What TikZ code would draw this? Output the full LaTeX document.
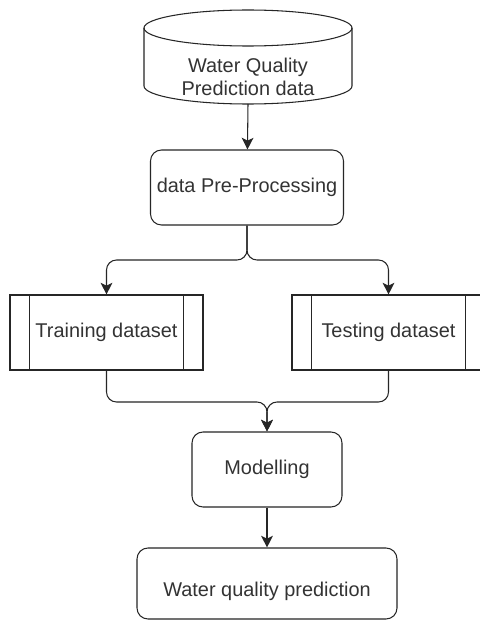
\documentclass[tikz,border=0pt]{standalone}
\usepackage{fontspec}
\setmainfont{Liberation Sans}
\usetikzlibrary{arrows.meta}

\begin{document}
\begin{tikzpicture}[x=0.03cm, y=0.03cm, line width=0.9pt, color=black!85,
  >={Stealth[length=10pt, width=10pt, inset=2.5pt]},
  txt/.style={font=\fontsize{17}{20}\selectfont, text=black!80},
  proc/.style={txt, draw, fill=white, rounded corners=0.33cm,
    minimum width=5.79cm, minimum height=2.25cm},
  subproc/.style={txt, draw, fill=white,
    minimum width=5.79cm, minimum height=2.25cm},
  link/.style={->, rounded corners=0.3cm}]
  \useasboundingbox (0,0) rectangle (480,-621);
  \fill[white] (0,0) rectangle (480,-621);
  % data store drum
  \draw (248,-28) ellipse [x radius=104, y radius=18];
  \draw (144,-28) -- (144,-86) arc [start angle=180, end angle=360, x radius=104, y radius=18] -- (352,-28);
  \node[txt, align=center] (src) at (248,-77) {Water Quality\\Prediction data};
  \coordinate (srcbot) at (248,-104);
  % steps
  \node[proc] (prep) at (247,-187.5) {data Pre-Processing};
  \node[subproc] (train) at (106.5,-332.5) {Training dataset};
  \node[subproc] (test) at (388.5,-332.5) {Testing dataset};
  \node[proc, minimum width=4.5cm] (model) at (267,-469.5) {Modelling};
  \node[proc, minimum width=7.8cm, minimum height=2.13cm,
    text height=23pt, text depth=0pt] (result) at (267,-583.5) {Water quality prediction};
  % side bars of the dataset boxes
  \foreach \n in {train,test} {
    \draw ([xshift=0.6cm]\n.north west) -- ([xshift=0.6cm]\n.south west);
    \draw ([xshift=-0.6cm]\n.north east) -- ([xshift=-0.6cm]\n.south east);
  }
  % connectors
  \coordinate (split) at (247,-260);
  \coordinate (merge) at (267,-402);
  \draw[link] (srcbot) -- (prep);
  \draw[link] (prep) -- (split) -| (train);
  \draw[link] (prep) -- (split) -| (test);
  \draw[link] (train) |- (merge) -- (model);
  \draw[link] (test) |- (merge) -- (model);
  \draw[link] (model) -- (result);
\end{tikzpicture}
\end{document}
